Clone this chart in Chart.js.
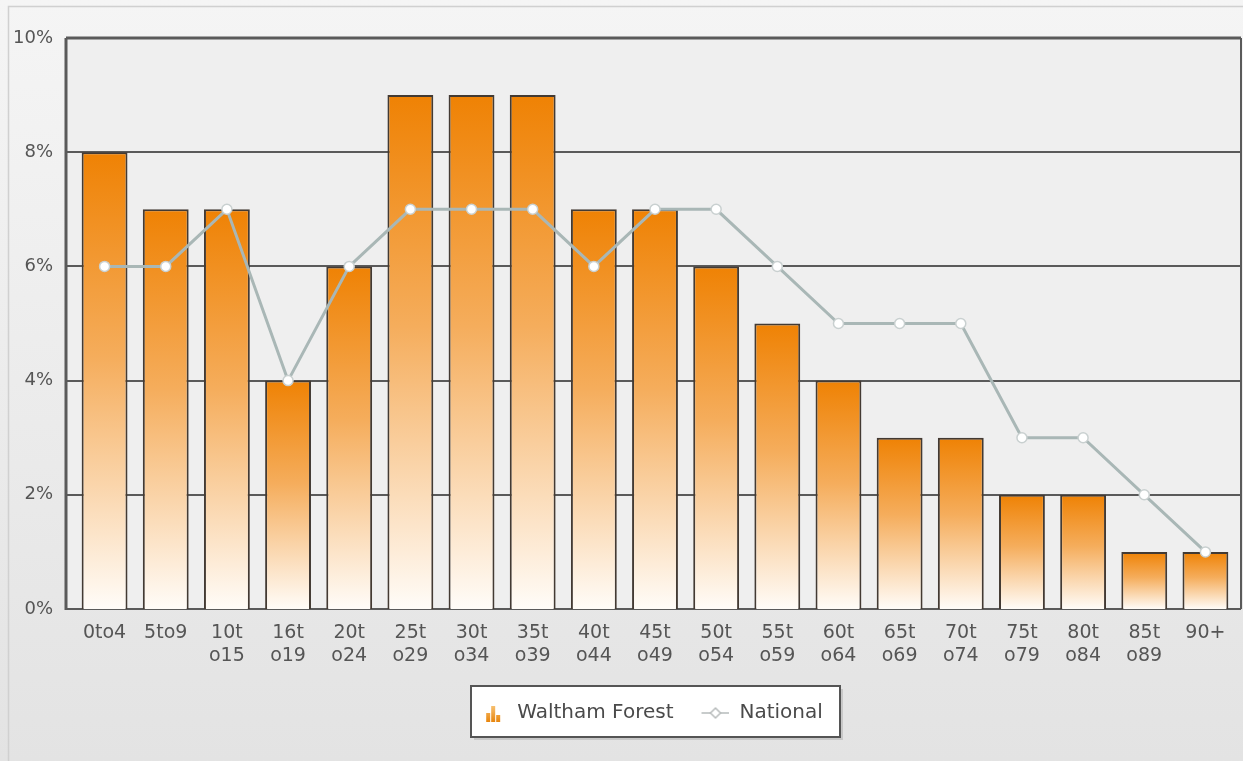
<!DOCTYPE html>
<html>
<head>
<meta charset="utf-8">
<script src="https://cdn.jsdelivr.net/npm/chart.js@4.4.1/dist/chart.umd.min.js"></script>
<style>
html,body{margin:0;padding:0;background:#ececec;}
#wrap{position:relative;width:1243px;height:761px;}
canvas{display:block;}
</style>
</head>
<body>
<div id="wrap"><canvas id="c" width="1243" height="761"></canvas></div>
<script>
const categories = [["0to4"],["5to9"],["10t","o15"],["16t","o19"],["20t","o24"],["25t","o29"],["30t","o34"],["35t","o39"],["40t","o44"],["45t","o49"],["50t","o54"],["55t","o59"],["60t","o64"],["65t","o69"],["70t","o74"],["75t","o79"],["80t","o84"],["85t","o89"],["90+"]];
const walthamForest = [8,7,7,4,6,9,9,9,7,7,6,5,4,3,3,2,2,1,1];
const national = [6,6,7,4,6,7,7,7,6,7,7,6,5,5,5,3,3,2,1];
const yTicks = [0,2,4,6,8,10];

const FONT = "'DejaVu Sans', Verdana, sans-serif";

function barIcon(){
  const c=document.createElement('canvas');c.width=32;c.height=18;
  const g=c.getContext('2d');
  const gr=g.createLinearGradient(0,2,0,18);
  gr.addColorStop(0,'#f7c070');gr.addColorStop(1,'#e8850c');
  g.fillStyle=gr;
  g.fillRect(11,9,4,9);g.fillRect(16,2,4,16);g.fillRect(21,11,4,7);
  return c;
}
function lineIcon(){
  const c=document.createElement('canvas');c.width=32;c.height=14;
  const g=c.getContext('2d');
  g.strokeStyle='#c8cccc';g.lineWidth=2;
  g.beginPath();g.moveTo(4,7);g.lineTo(32,7);g.stroke();
  g.fillStyle='#fff';g.strokeStyle='#b8bcbc';g.lineWidth=1.5;
  g.beginPath();g.moveTo(18,2);g.lineTo(23,7);g.lineTo(18,12);g.lineTo(13,7);g.closePath();g.fill();g.stroke();
  return c;
}
const icons=[barIcon(),lineIcon()];

const framePlugin={
  id:'frame',
  afterLayout(chart){
    const lg=chart.legend;
    if(lg){lg.left+=31;lg.right+=31;}
  },
  beforeDraw(chart){
    const ctx=chart.ctx, y=chart.scales.y;
    ctx.save();
    const bg=ctx.createLinearGradient(0,0,0,761);
    bg.addColorStop(0,'#f5f5f5');bg.addColorStop(1,'#e3e3e3');
    ctx.fillStyle=bg;ctx.fillRect(0,0,1243,761);
    ctx.strokeStyle='#d0d0d0';ctx.lineWidth=1.5;
    ctx.strokeRect(8.5,6.5,1240,760);
    const L=66,R=1241,T=y.getPixelForValue(10),B=y.getPixelForValue(0);
    ctx.fillStyle='#efefef';ctx.fillRect(L,T,R-L,B-T);
    yTicks.forEach(v=>{
      const py=Math.round(y.getPixelForValue(v));
      ctx.strokeStyle='#5a5a5a';
      ctx.lineWidth=(v===10)?3:2;
      ctx.beginPath();ctx.moveTo(L,py);ctx.lineTo(R,py);ctx.stroke();
    });
    ctx.strokeStyle='#5a5a5a';ctx.lineWidth=3;
    ctx.beginPath();ctx.moveTo(L,T);ctx.lineTo(L,B+1);ctx.stroke();
    ctx.lineWidth=2;
    ctx.beginPath();ctx.moveTo(R,T);ctx.lineTo(R,B);ctx.stroke();
    // legend box
    const x0=471,x1=840,y0=686,y1=737;
    ctx.fillStyle='rgba(0,0,0,0.12)';ctx.fillRect(x0+3,y0+3,x1-x0,y1-y0);
    ctx.fillStyle='#ffffff';ctx.fillRect(x0,y0,x1-x0,y1-y0);
    ctx.strokeStyle='#555';ctx.lineWidth=2;ctx.strokeRect(x0,y0,x1-x0,y1-y0);
    ctx.restore();
  }
};

function barGradient(ctx){
  const chart=ctx.chart;
  if(!chart.chartArea||ctx.type!=='data') return '#f0890c';
  const y=chart.scales.y;
  const top=y.getPixelForValue(ctx.raw), bot=y.getPixelForValue(0);
  const g=chart.ctx.createLinearGradient(0,top,0,bot);
  g.addColorStop(0,'#ef8204');
  g.addColorStop(0.45,'#f5ad5c');
  g.addColorStop(1,'#fffcf8');
  return g;
}

new Chart(document.getElementById('c'),{
  data:{
    labels:categories,
    datasets:[
      {type:'line',label:'National',data:national,borderColor:'#a9b7b6',borderWidth:3,
       pointBackgroundColor:'#ffffff',pointBorderColor:'#c9d0d0',pointBorderWidth:1.5,pointRadius:5,
       tension:0,order:0},
      {type:'bar',label:'Waltham Forest',data:walthamForest,backgroundColor:barGradient,
       borderColor:'#433a33',borderWidth:2,categoryPercentage:1,barPercentage:0.75,order:1}
    ]
  },
  options:{
    responsive:false,animation:false,
    layout:{padding:{left:0,right:7,top:38,bottom:28}},
    plugins:{
      tooltip:{enabled:false},
      legend:{
        position:'bottom',
        labels:{
          font:{family:FONT,size:20},color:'#4a4a4a',usePointStyle:true,pointStyleWidth:32,padding:24,
          generateLabels(chart){
            return [
              {text:'Waltham Forest',pointStyle:icons[0],datasetIndex:1,fontColor:'#4a4a4a',lineWidth:0,strokeStyle:'rgba(0,0,0,0)',fillStyle:'rgba(0,0,0,0)'},
              {text:'National',pointStyle:icons[1],datasetIndex:0,fontColor:'#4a4a4a',lineWidth:0,strokeStyle:'rgba(0,0,0,0)',fillStyle:'rgba(0,0,0,0)'}
            ];
          }
        }
      }
    },
    scales:{
      x:{
        grid:{display:false,drawTicks:false},border:{display:false},
        ticks:{font:{family:FONT,size:19,lineHeight:1.2},color:'#555',padding:13,maxRotation:0,autoSkip:false},
        afterFit(s){s.height=70;}
      },
      y:{
        min:0,max:10,
        grid:{display:false,drawTicks:false},border:{display:false},
        ticks:{stepSize:2,font:{family:FONT,size:18},color:'#555',padding:21,callback:v=>v+'%'},
        afterFit(s){s.width=74;}
      }
    }
  },
  plugins:[framePlugin]
});
</script>
</body>
</html>
